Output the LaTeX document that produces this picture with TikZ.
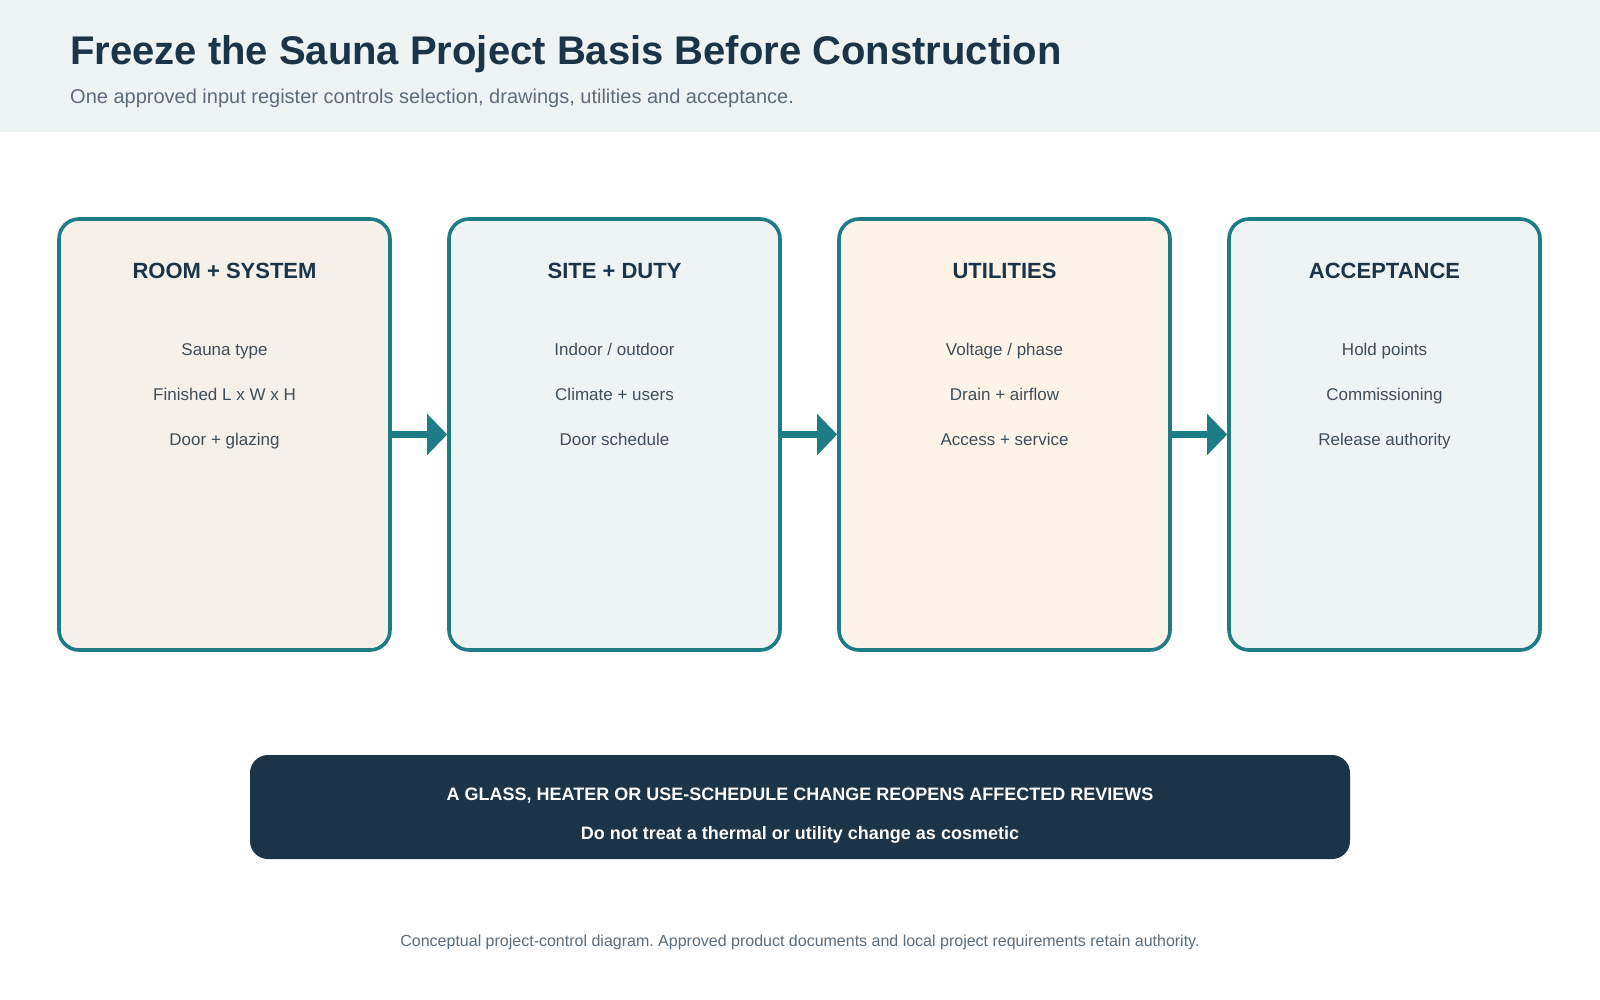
\documentclass[tikz,border=0pt]{standalone}
\usepackage{fontspec}
\setmainfont{Liberation Sans}
\usetikzlibrary{arrows.meta}
\frenchspacing
\definecolor{hdrbg}{HTML}{EEF4F4}
\definecolor{navy}{HTML}{1B3447}
\definecolor{subgray}{HTML}{5B6D7C}
\definecolor{itemgray}{HTML}{3E4E5B}
\definecolor{teal}{HTML}{1D7C85}
\definecolor{fillA}{HTML}{F6F0EA}
\definecolor{fillB}{HTML}{EEF4F4}
\definecolor{fillC}{HTML}{FEF3E7}
\tikzset{
  stagebox/.style={draw=teal, line width=3.6pt, rounded corners=20pt, inner sep=0pt, minimum height=431pt},
  stagetitle/.style={anchor=base, text=navy, font=\fontsize{22}{26}\selectfont\bfseries},
  stageitem/.style={anchor=base, text=itemgray, font=\fontsize{17}{20}\selectfont},
  flowarrow/.style={draw=teal, line width=7pt, -{Triangle[length=20pt,width=40pt]}},
}
\begin{document}
\begin{tikzpicture}[x=1pt,y=-1pt]
\useasboundingbox (0,0) rectangle (1600,1000);
\fill[white] (0,0) rectangle (1600,1000);
\fill[hdrbg] (0,0) rectangle (1600,132);
\node[anchor=base west, inner sep=0pt, text=navy, font=\fontsize{40}{46}\selectfont\bfseries] (title) at (70,65) {Freeze the Sauna Project Basis Before Construction};
\node[anchor=base west, inner sep=0pt, text=subgray, font=\fontsize{20}{24}\selectfont] (subtitle) at (70,104) {One approved input register controls selection, drawings, utilities and acceptance.};

\node[stagebox, fill=fillA, minimum width=331pt] (b1) at (224.5,434.5) {};
\node[stagebox, fill=fillB, minimum width=331pt] (b2) at (614.5,434.5) {};
\node[stagebox, fill=fillC, minimum width=331pt] (b3) at (1004.5,434.5) {};
\node[stagebox, fill=fillB, minimum width=311pt] (b4) at (1384.5,434.5) {};

\node[stagetitle] (t1) at (224.5,278) {ROOM + SYSTEM};
\node[stageitem] (i11) at (224.5,355) {Sauna type};
\node[stageitem] (i12) at (224.5,400) {Finished L x W x H};
\node[stageitem] (i13) at (224.5,445) {Door + glazing};

\node[stagetitle] (t2) at (614.5,278) {SITE + DUTY};
\node[stageitem] (i21) at (614.5,355) {Indoor / outdoor};
\node[stageitem] (i22) at (614.5,400) {Climate + users};
\node[stageitem] (i23) at (614.5,445) {Door schedule};

\node[stagetitle] (t3) at (1004.5,278) {UTILITIES};
\node[stageitem] (i31) at (1004.5,355) {Voltage / phase};
\node[stageitem] (i32) at (1004.5,400) {Drain + airflow};
\node[stageitem] (i33) at (1004.5,445) {Access + service};

\node[stagetitle] (t4) at (1384.5,278) {ACCEPTANCE};
\node[stageitem] (i41) at (1384.5,355) {Hold points};
\node[stageitem] (i42) at (1384.5,400) {Commissioning};
\node[stageitem] (i43) at (1384.5,445) {Release authority};

\draw[flowarrow] (b1.east) -- (b2.west);
\draw[flowarrow] (b2.east) -- (b3.west);
\draw[flowarrow] (b3.east) -- (b4.west);

\node[fill=navy, rounded corners=18pt, minimum width=1100pt, minimum height=104pt, inner sep=0pt] (banner) at (800,807) {};
\node[anchor=base, text=white, font=\fontsize{18}{22}\selectfont\bfseries] (bn1) at (800,800) {A GLASS, HEATER OR USE-SCHEDULE CHANGE REOPENS AFFECTED REVIEWS};
\node[anchor=base, text=white, font=\fontsize{18}{22}\selectfont\bfseries] (bn2) at (800,839) {Do not treat a thermal or utility change as cosmetic};

\node[anchor=base, text=subgray, font=\fontsize{16}{19}\selectfont] (footer) at (800,946) {Conceptual project-control diagram. Approved product documents and local project requirements retain authority.};
\end{tikzpicture}
\end{document}
